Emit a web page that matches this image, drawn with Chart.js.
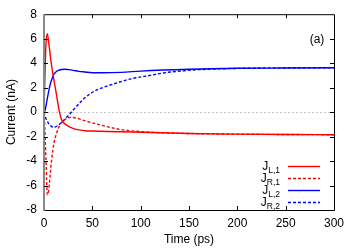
<!DOCTYPE html>
<html>
<head>
<meta charset="utf-8">
<script src="https://cdn.jsdelivr.net/npm/chart.js@4"></script>
<style>
html,body{margin:0;padding:0;background:#fff;}
#wrap{width:356px;height:249px;position:relative;}
</style>
</head>
<body>
<div id="wrap"><canvas id="c" width="356" height="249"></canvas></div>
<script>
// Time (ps) samples and currents (nA)
const tL1 = [0, 1, 2, 3.4, 5, 6.9, 9, 12.4, 16, 18.3, 20, 23.4, 30, 42, 50, 80, 100, 150, 200, 250, 300];
const jL1 = [0, 3.0, 5.5, 6.4, 5.6, 4.36, 3.2, 1.66, 0.0, -0.65, -0.85, -1.06, -1.33, -1.52, -1.55, -1.6, -1.65, -1.75, -1.8, -1.83, -1.85];

const tR1 = [0, 1, 2, 3.4, 5, 6.2, 7.9, 10.3, 13, 16.5, 21.7, 27, 33.8, 42, 58, 79, 102, 150, 200, 250, 300];
const jR1 = [0, -1.5, -3.8, -6.75, -6.3, -5.26, -3.9, -2.54, -1.73, -1.06, -0.6, -0.43, -0.5, -0.7, -1.05, -1.42, -1.6, -1.75, -1.8, -1.83, -1.85];

const tL2 = [0, 1, 2.8, 4.5, 6.2, 8, 9.6, 12, 14.8, 18, 21.7, 25, 30.3, 36, 42, 50, 60, 80, 100, 150, 200, 250, 300];
const jL2 = [0, 0.1, 0.84, 1.55, 2.2, 2.65, 3.0, 3.25, 3.4, 3.48, 3.5, 3.47, 3.41, 3.33, 3.28, 3.22, 3.22, 3.25, 3.35, 3.5, 3.58, 3.6, 3.62];

const tR2 = [0, 1, 3, 6, 10, 15, 20, 25, 30, 40, 50, 60, 75, 90, 110, 125, 145, 160, 190, 220, 260, 300];
const jR2 = [0, -0.3, -0.7, -1.05, -1.25, -1.05, -0.7, -0.3, 0.15, 1.0, 1.62, 1.98, 2.38, 2.72, 3.0, 3.22, 3.38, 3.47, 3.55, 3.6, 3.62, 3.62];

const seriesNames = [["L,1"], ["R,1"], ["L,2"], ["R,2"]];
const xTicks = [0, 50, 100, 150, 200, 250, 300];
const yTicks = [-8, -6, -4, -2, 0, 2, 4, 6, 8];
const panelLabel = "(a)";
const xTitle = "Time (ps)";
const yTitle = "Current (nA)";

const RED = "#ff0000", BLUE = "#0000ff";
const FONT = "'Liberation Sans', Arial, sans-serif";

function pts(t, v) { return t.map((x, i) => ({x: x, y: v[i]})); }

const datasets = [
  {label: "J_L,1", data: pts(tL1, jL1), borderColor: RED, borderWidth: 1.4, borderDash: []},
  {label: "J_R,1", data: pts(tR1, jR1), borderColor: RED, borderWidth: 1.4, borderDash: [3, 2]},
  {label: "J_L,2", data: pts(tL2, jL2), borderColor: BLUE, borderWidth: 1.4, borderDash: []},
  {label: "J_R,2", data: pts(tR2, jR2), borderColor: BLUE, borderWidth: 1.4, borderDash: [3, 2]}
].map(d => Object.assign(d, {pointRadius: 0, fill: false, cubicInterpolationMode: 'monotone', backgroundColor: d.borderColor}));

const decor = {
  id: 'decor',
  beforeDatasetsDraw(chart) {
    const {ctx, chartArea: a, scales: {x, y}} = chart;
    ctx.save();
    // zero axis
    ctx.strokeStyle = '#c8c8c8';
    ctx.lineWidth = 1;
    ctx.setLineDash([2, 2]);
    const y0 = Math.round(y.getPixelForValue(0)) + 0.5;
    ctx.beginPath(); ctx.moveTo(a.left, y0); ctx.lineTo(a.right, y0); ctx.stroke();
    ctx.restore();
  },
  afterDatasetsDraw(chart) {
    const {ctx, chartArea: a, scales: {x, y}} = chart;
    ctx.save();
    ctx.setLineDash([]);
    // border
    ctx.strokeStyle = '#000';
    ctx.lineWidth = 1;
    ctx.beginPath();
    ctx.moveTo(a.left, a.top + 0.5); ctx.lineTo(a.right + 0.5, a.top + 0.5);
    ctx.lineTo(a.right + 0.5, a.bottom + 0.5); ctx.lineTo(a.left, a.bottom + 0.5);
    ctx.stroke();
    ctx.strokeStyle = '#888';
    ctx.lineWidth = 2;
    ctx.beginPath(); ctx.moveTo(a.left, a.top); ctx.lineTo(a.left, a.bottom + 1); ctx.stroke();
    // inward ticks
    ctx.strokeStyle = '#000';
    ctx.lineWidth = 1;
    const L = 4;
    ctx.beginPath();
    xTicks.forEach(v => {
      if (v === 0 || v === 300) return;
      const px = Math.round(x.getPixelForValue(v)) + 0.5;
      ctx.moveTo(px, a.bottom); ctx.lineTo(px, a.bottom - L);
      ctx.moveTo(px, a.top); ctx.lineTo(px, a.top + L);
    });
    yTicks.forEach(v => {
      if (v === -8 || v === 8) return;
      const py = Math.round(y.getPixelForValue(v)) + 0.5;
      ctx.moveTo(a.left, py); ctx.lineTo(a.left + L, py);
      ctx.moveTo(a.right, py); ctx.lineTo(a.right - L, py);
    });
    ctx.stroke();
    // panel label
    ctx.fillStyle = '#000';
    ctx.font = "12px " + FONT;
    ctx.textAlign = 'center';
    ctx.textBaseline = 'middle';
    ctx.fillText(panelLabel, 317, 40);
    // legend
    const rows = [166, 178, 190, 202];
    chart.data.datasets.forEach((d, i) => {
      const ry = rows[i];
      ctx.font = "8.5px " + FONT;
      const sub = seriesNames[i][0];
      const sw = ctx.measureText(sub).width;
      const subX = 280 - sw;
      ctx.textAlign = 'left';
      ctx.textBaseline = 'alphabetic';
      ctx.fillText(sub, subX, ry + 7);
      ctx.font = "12px " + FONT;
      ctx.textAlign = 'right';
      ctx.fillText("J", subX, ry + 4);
      ctx.strokeStyle = d.borderColor;
      ctx.lineWidth = 1.4;
      ctx.setLineDash(d.borderDash);
      ctx.beginPath(); ctx.moveTo(288, ry + 0.5); ctx.lineTo(320, ry + 0.5); ctx.stroke();
    });
    ctx.restore();
  }
};

new Chart(document.getElementById('c'), {
  type: 'line',
  data: {datasets: datasets},
  options: {
    responsive: false,
    animation: false,
    devicePixelRatio: 1,
    layout: {padding: {top: 14, right: 22, left: 0, bottom: 0}},
    plugins: {legend: {display: false}, tooltip: {enabled: false}},
    scales: {
      x: {
        type: 'linear', min: 0, max: 300,
        afterBuildTicks: s => { s.ticks = xTicks.map(v => ({value: v})); },
        afterFit: s => { s.height = 39; },
        grid: {display: false, drawTicks: false},
        border: {display: false},
        ticks: {color: '#000', font: {family: FONT, size: 12}, padding: 6, maxRotation: 0},
        title: {display: true, text: xTitle, color: '#000', font: {family: FONT, size: 12}, padding: {top: 0, bottom: 2}}
      },
      y: {
        type: 'linear', min: -8, max: 8,
        afterBuildTicks: s => { s.ticks = yTicks.map(v => ({value: v})); },
        afterFit: s => { s.width = 44; },
        grid: {display: false, drawTicks: false},
        border: {display: false},
        ticks: {color: '#000', font: {family: FONT, size: 12}, padding: 7},
        title: {display: true, text: yTitle, color: '#000', font: {family: FONT, size: 12}, padding: {top: 4, bottom: 0}}
      }
    }
  },
  plugins: [decor]
});
</script>
</body>
</html>
